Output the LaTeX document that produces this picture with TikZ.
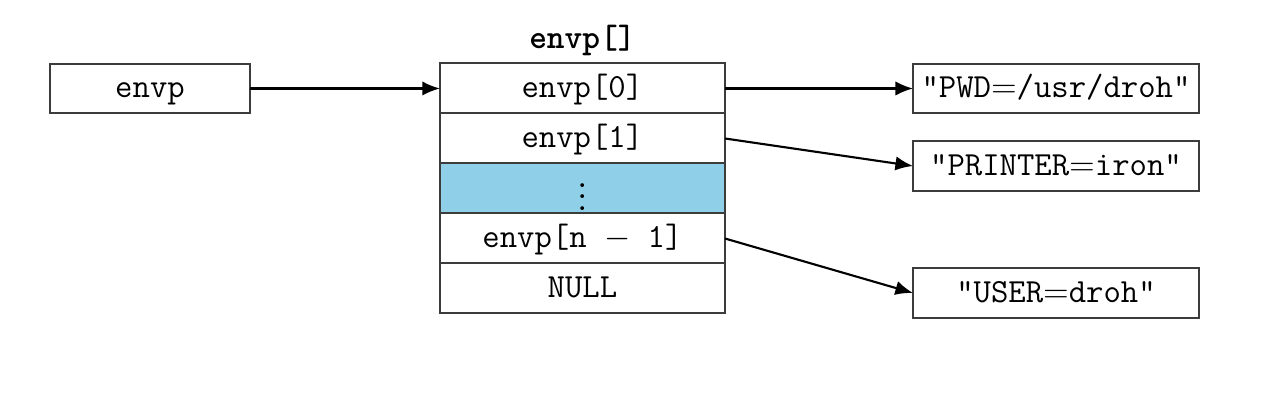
\documentclass[tikz,border=0pt]{standalone}
\usepackage{amsmath,amssymb}
\usepackage{tikz}
\usetikzlibrary{arrows.meta,positioning}
\definecolor{cellblue}{RGB}{143,208,232}
\definecolor{linegray}{RGB}{60,60,60}

\begin{document}
\begin{tikzpicture}[
  box/.style={draw=linegray, rectangle, line width=0.7pt, minimum width=2.5cm,
              minimum height=0.62cm, inner sep=0pt, outer sep=0pt,
              text height=0.8em, text depth=0.13em,
              font=\fontsize{12}{14}\selectfont\ttfamily, fill=white},
  cell/.style={box, minimum width=3.5625cm, minimum height=0.625cm},
  strbox/.style={box, minimum width=3.575cm},
  ptr/.style={-{Latex[length=2.2mm,width=1.8mm]}, line width=0.75pt, black}
]
\useasboundingbox (0,0) rectangle (16,-5.2);

% the pointer
\node[box] (envp) at (1.875,-1.106) {envp};

% the array
\node[font=\fontsize{12}{14}\selectfont\ttfamily\bfseries] (title) at (7.28,-0.5) {envp[]};
\node[cell] (r0) at (7.28,-1.106) {envp[0]};
\node[cell, below=0pt of r0] (r1) {envp[1]};
\node[cell, below=0pt of r1, fill=cellblue, text height=, text depth=] (rdots) {$\vdots$};
\node[cell, below=0pt of rdots] (rlast) {envp[n $-$ 1]};
\node[cell, below=0pt of rlast] (rnull) {NULL};

% the strings
\node[strbox] (pwd)     at (13.2,-1.106) {"PWD$=$/usr/droh"};
\node[strbox] (printer) at (13.2,-2.075) {"PRINTER$=$iron"};
\node[strbox] (user)    at (13.2,-3.6625) {"USER$=$droh"};

\draw[ptr] (envp.east) -- (r0.west);
\draw[ptr] (r0.east) -- (pwd.west);
\draw[ptr] (r1.east) -- (printer.west);
\draw[ptr] (rlast.east) -- (user.west);

\end{tikzpicture}
\end{document}
